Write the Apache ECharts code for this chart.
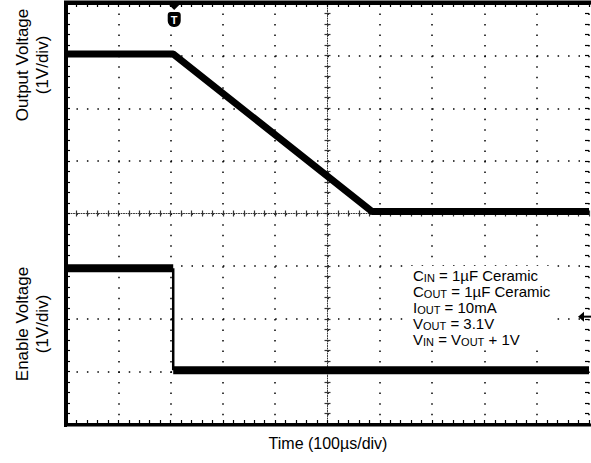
<!DOCTYPE html>
<html>
<head>
<meta charset="utf-8">
<script src="https://cdn.jsdelivr.net/npm/echarts@6/dist/echarts.min.js"></script>
<style>
html,body{margin:0;padding:0;background:#fff;}
#chart{width:591px;height:463px;}
</style>
</head>
<body>
<div id="chart"></div>
<script>
// ---- data (in screen divisions: x = time div, y = volts, 1V/div) ----
const outputTime = [0, 2.05, 5.85, 10];
const outputVolt = [3.03, 3.03, 0.04, 0.04];
const enableHighTime = [0, 2.05];
const enableHighVolt = [-1.04, -1.04];
const enableLowTime = [2.05, 10];
const enableLowVolt = [-2.98, -2.98];
const triggerTime = 2.05;
const enableGroundLevel = -1.96;
const xLabel = 'Time (100µs/div)';
const yLabelTop = ['Output Voltage', '(1V/div)'];
const yLabelBottom = ['Enable Voltage', '(1V/div)'];
const noteLines = [
  ['C', 'IN', ' = 1µF Ceramic'],
  ['C', 'OUT', ' = 1µF Ceramic'],
  ['I', 'OUT', ' = 10mA'],
  ['V', 'OUT', ' = 3.1V'],
  ['V', 'IN', ' = V', 'OUT', ' + 1V']
];

const zip = (a, b) => a.map((v, i) => [v, b[i]]);
const FONT = '"Liberation Sans", Arial, sans-serif';

const chart = echarts.init(document.getElementById('chart'), null, {renderer: 'svg'});

const tick = (inside, len, color) => ({
  axisTick: {show: true, inside: inside, length: len, lineStyle: {color: color, width: 1.2}},
  minorTick: {show: true, splitNumber: 5, length: len, lineStyle: {color: color, width: 1.2}}
});
const frameX = (pos, width) => Object.assign({
  type: 'value', min: 0, max: 10, interval: 1, position: pos,
  axisLine: {show: true, onZero: false, lineStyle: {color: '#000', width: width}},
  axisLabel: {show: false},
  splitLine: {show: false}
}, tick(true, 4, '#000'));
const frameY = (pos, width, showLine) => Object.assign({
  type: 'value', min: -4, max: 4, interval: 1, position: pos,
  axisLine: {show: showLine, onZero: false, lineStyle: {color: '#000', width: width}},
  axisLabel: {show: false},
  splitLine: {show: false}
}, tick(true, 4, '#000'));
const centerX = (inside, showLine) => Object.assign({
  type: 'value', min: -5, max: 5, interval: 1, position: 'bottom',
  axisLine: {show: showLine, onZero: true, onZeroAxisIndex: 0, lineStyle: {color: '#333', width: 1, type: [1, 1.5]}},
  axisLabel: {show: false},
  splitLine: {show: false}
}, tick(inside, 3, '#333'));
const centerY = (inside, showLine) => Object.assign({
  type: 'value', min: -4, max: 4, interval: 1, position: 'left',
  axisLine: {show: showLine, onZero: true, onZeroAxisIndex: 2, lineStyle: {color: '#333', width: 1, type: [1, 1.5]}},
  axisLabel: {show: false},
  splitLine: {show: false}
}, tick(inside, 3, '#333'));

const xMain = frameX('bottom', 3);
xMain.splitLine = {show: true, lineStyle: {color: '#000', width: 1.5, type: [1.5, 9.03]}};
const yMain = frameY('left', 3, true);
yMain.splitLine = {show: true, lineStyle: {color: '#000', width: 1.5, type: [1.5, 8.96]}};

chart.setOption({
  animation: false,
  backgroundColor: '#fff',
  grid: {left: 66, top: 3, width: 523, height: 421, containLabel: false},
  xAxis: [xMain, frameX('top', 4), centerX(true, true), centerX(false, false)],
  yAxis: [yMain, frameY('right', 1, false), centerY(true, true), centerY(false, false)],
  series: [
    {name: 'Output Voltage', type: 'line', xAxisIndex: 0, yAxisIndex: 0, data: zip(outputTime, outputVolt),
     symbol: 'none', lineStyle: {color: '#000', width: 7}, z: 5},
    {name: 'Enable High', type: 'line', xAxisIndex: 0, yAxisIndex: 0, data: zip(enableHighTime, enableHighVolt),
     symbol: 'none', lineStyle: {color: '#000', width: 8}, z: 5},
    {name: 'Enable Edge', type: 'line', xAxisIndex: 0, yAxisIndex: 0,
     data: [[enableHighTime[1], enableHighVolt[1]], [enableLowTime[0], enableLowVolt[0]]],
     symbol: 'none', lineStyle: {color: '#000', width: 2.5}, z: 5},
    {name: 'Enable Low', type: 'line', xAxisIndex: 0, yAxisIndex: 0, data: zip(enableLowTime, enableLowVolt),
     symbol: 'none', lineStyle: {color: '#000', width: 8}, z: 5}
  ]
});

const tl = chart.convertToPixel({xAxisIndex: 0, yAxisIndex: 0}, [0, 4]);
const br = chart.convertToPixel({xAxisIndex: 0, yAxisIndex: 0}, [10, -4]);
const trig = chart.convertToPixel({xAxisIndex: 0, yAxisIndex: 0}, [triggerTime, 4]);
const gnd = chart.convertToPixel({xAxisIndex: 0, yAxisIndex: 0}, [10, enableGroundLevel]);

const richText = noteLines.map(parts => parts.map((p, i) => (i % 2 === 0 ? '{m|' : '{s|') + p + '}').join('')).join('\n');

chart.setOption({
  graphic: [
    // frame
    {type: 'line', z: 50, shape: {x1: tl[0] - 2, y1: tl[1] - 0.5, x2: 591, y2: tl[1] - 0.5}, style: {stroke: '#000', lineWidth: 4}},
    {type: 'line', z: 50, shape: {x1: tl[0] - 0.5, y1: tl[1] - 2, x2: tl[0] - 0.5, y2: br[1] + 3}, style: {stroke: '#000', lineWidth: 3}},
    {type: 'line', z: 50, shape: {x1: tl[0] - 2, y1: br[1] + 1, x2: 591, y2: br[1] + 1}, style: {stroke: '#000', lineWidth: 3}},
    {type: 'text', x: 328, y: 443, style: {text: xLabel, font: '16px ' + FONT, fill: '#000', align: 'center', verticalAlign: 'middle'}},
    {type: 'text', x: 32, y: 65, rotation: Math.PI / 2,
     style: {text: yLabelTop.join('\n'), font: '17px ' + FONT, lineHeight: 20, fill: '#000', align: 'center', verticalAlign: 'middle'}},
    {type: 'text', x: 32, y: 324, rotation: Math.PI / 2,
     style: {text: yLabelBottom.join('\n'), font: '17px ' + FONT, lineHeight: 20, fill: '#000', align: 'center', verticalAlign: 'middle'}},
    {type: 'text', x: 411, y: 266, z: 40,
     style: {text: richText, fill: '#000', fontFamily: FONT, backgroundColor: '#fff', padding: [1, 2, 1, 2],
       rich: {
         m: {fontSize: 15, lineHeight: 16, fontFamily: FONT, fill: '#000'},
         s: {fontSize: 11, lineHeight: 9, verticalAlign: 'bottom', fontFamily: FONT, fill: '#000'}
       }}},
    // trigger marker
    {type: 'group', x: trig[0] + 1, y: 0, z: 100, children: [
      {type: 'polygon', shape: {points: [[-6, 4], [6, 4], [0, 10]]}, style: {fill: '#000'}},
      {type: 'rect', shape: {x: -6.5, y: 12, width: 13, height: 15, r: [3, 3, 6, 6]}, style: {fill: '#000'}},
      {type: 'text', x: 0, y: 19.5, style: {text: 'T', font: 'bold 11px ' + FONT, fill: '#fff', align: 'center', verticalAlign: 'middle'}}
    ]},
    // enable ground marker
    {type: 'group', x: gnd[0], y: gnd[1], z: 100, children: [
      {type: 'polygon', shape: {points: [[-11, 0], [-5, -5], [-5, 5]]}, style: {fill: '#000'}},
      {type: 'line', shape: {x1: -6, y1: 0, x2: 2, y2: 0}, style: {stroke: '#000', lineWidth: 2}}
    ]}
  ]
});
</script>
</body>
</html>
